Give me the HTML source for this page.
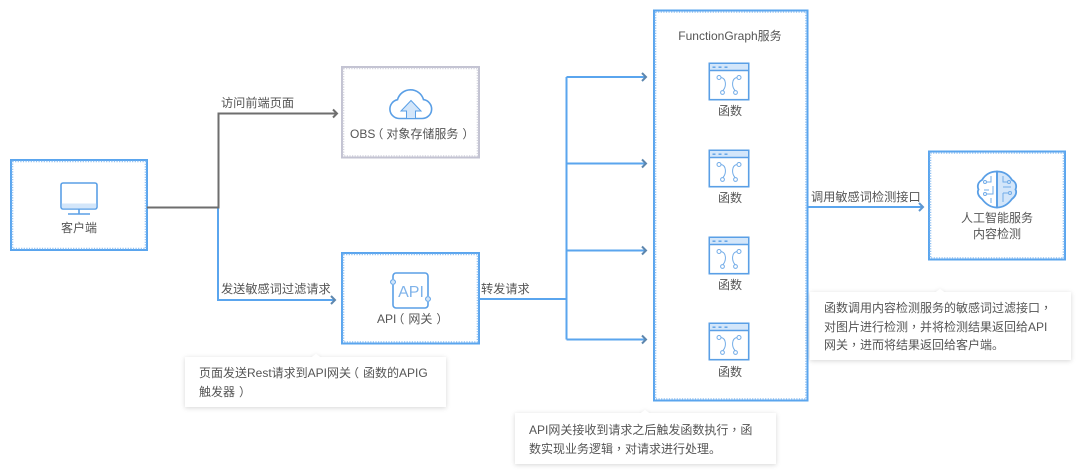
<!DOCTYPE html>
<html><head><meta charset="utf-8">
<style>
html,body{margin:0;padding:0;background:#fff}
svg{display:block;filter:blur(.3px)}
text{font-family:"Liberation Sans","Noto Sans CJK SC",sans-serif;font-size:12px;fill:#555}
.m{text-anchor:middle}
.lb{font-size:12.2px}
.tc{font-family:"Liberation Sans","Noto Sans CJK TC",sans-serif}
.ln{fill:none;stroke-width:2}
.ic{fill:none;stroke:#5a9fe6;stroke-width:1.6}
.th{fill:none;stroke:#72ace8;stroke-width:1}
</style></head>
<body>
<svg width="1080" height="475" viewBox="0 0 1080 475" xmlns="http://www.w3.org/2000/svg">
<defs>
<filter id="sh" x="-10%" y="-20%" width="120%" height="150%"><feDropShadow dx="0" dy="1" stdDeviation="2.500" flood-color="#000" flood-opacity=".16"/></filter>
<g id="fn">
<rect x="0.800" y="0.800" width="39.400" height="36.400" fill="#fff" stroke="#5a9fe6" stroke-width="1.600"/>
<rect x="1.600" y="1.600" width="37.800" height="6.400" fill="#d3e6fa"/>
<line x1="1" y1="8" x2="40" y2="8" stroke="#5a9fe6" stroke-width="1.400"/>
<path d="M4 4.700h3M10 4.700h3M16 4.700h3" stroke="#5a9fe6" stroke-width="1.300"/>
<circle cx="10.500" cy="15" r="2" class="th"/><circle cx="30.500" cy="15" r="2" class="th"/>
<circle cx="14" cy="30" r="1.900" class="th"/><circle cx="27" cy="30" r="1.900" class="th"/>
<path d="M12.500 15C18 16 18 24 14.500 28M28.500 15C23 16 23 24 26.500 28" class="th"/>
</g>
</defs>

<!-- boxes -->
<g fill="#fff" stroke-width="2">
<rect x="11" y="160" width="136" height="90" stroke="#5aa5ee"/>
<rect x="342" y="67" width="137" height="90.500" stroke="#c3c3d2"/>
<rect x="342" y="253" width="137" height="90.500" stroke="#5aa5ee"/>
<rect x="654" y="10.500" width="153.500" height="390" stroke="#5aa5ee"/>
<rect x="929" y="151.500" width="136" height="108" stroke="#5aa5ee"/>
</g>
<g fill="none" stroke-width="1.600" stroke-dasharray="1.200 1.400">
<rect x="12.500" y="161.500" width="133" height="87" stroke="#8fc0f2"/>
<rect x="343.500" y="68.500" width="134" height="87.500" stroke="#d2d2dd"/>
<rect x="343.500" y="254.500" width="134" height="87.500" stroke="#8fc0f2"/>
<rect x="655.500" y="12" width="150.500" height="387" stroke="#8fc0f2"/>
<rect x="930.500" y="153" width="133" height="105" stroke="#8fc0f2"/>
</g>

<!-- connectors -->
<path d="M218 207V300H334" class="ln" stroke="#5aa5ee"/>
<path d="M147 207.500H218.500V113.500H336" class="ln" stroke="#6e6e6e"/>
<path d="M333 109.500L337 113.500L333 117.500" class="ln" stroke="#6e6e6e"/>
<path d="M331 296L335 300L331 304" class="ln" stroke="#5d86ad"/>
<path d="M479 299H566.500M566.500 77V339.500M566.500 77H645M566.500 163.500H645M566.500 250.500H645M566.500 339.500H645" class="ln" stroke="#5aa5ee"/>
<path d="M642 73L646 77L642 81M642 159.500L646 163.500L642 167.500M642 246.500L646 250.500L642 254.500M642 335.500L646 339.500L642 343.500" class="ln" stroke="#5d86ad"/>
<path d="M808 207H922" class="ln" stroke="#5aa5ee"/>
<path d="M919 203L923 207L919 211" class="ln" stroke="#5d96d0"/>

<!-- connector labels -->
<text x="221" y="107" class="lb">访问前端页面</text>
<text x="221" y="293" class="lb">发送敏感词过滤请求</text>
<text x="481" y="293" class="lb">转发请求</text>
<text x="811" y="201" class="lb">调用敏感词检测接口</text>

<!-- client icon -->
<rect x="61" y="183" width="36" height="26" rx="2" fill="#fff" stroke="#5a9fe6" stroke-width="1.600"/>
<path d="M61.800 203.500H96.200V207a1.500 1.500 0 0 1-1.500 1.500H63.300a1.500 1.500 0 0 1-1.500-1.500Z" fill="#d3e6fa"/>
<path d="M79 209V214M68 214H90" stroke="#5a9fe6" stroke-width="1.600" fill="none"/>
<text x="79" y="232" class="m">客户端</text>

<!-- OBS icon -->
<path d="M399 118.500H422a9.500 9.500 0 0 0 1.500-18.900A13.500 13.500 0 0 0 397.500 99.700 9.500 9.500 0 0 0 399 118.500Z" fill="#fff" stroke="#5a9fe6" stroke-width="1.600"/>
<path d="M401 111L411 100.500L421 111H415.500V118.500H406.500V111Z" fill="#d3e6fa" stroke="#5a9fe6" stroke-width="1"/>
<text x="350" y="138">OBS<tspan dx="-4">（</tspan><tspan dx="3">对象存储服务</tspan><tspan dx="4">）</tspan></text>

<!-- API icon -->
<path d="M393 279V276a3 3 0 0 1 3-3H425a3 3 0 0 1 3 3V296M393 285V305a3 3 0 0 0 3 3H425a3 3 0 0 0 3-3V302" class="ic"/>
<circle cx="393" cy="282" r="2.400" fill="#d3e6fa" stroke="#5a9fe6"/>
<circle cx="428" cy="299" r="2.400" fill="#d3e6fa" stroke="#5a9fe6"/>
<text x="411" y="297" class="m" style="font-size:16px;fill:#7fb3ea">API</text>
<text x="377" y="323">API<tspan dx="-4">（</tspan><tspan dx="4">网关</tspan><tspan dx="4">）</tspan></text>

<!-- function box -->
<text x="730" y="40" class="m">FunctionGraph服务</text>
<use href="#fn" x="708.500" y="62.500"/>
<use href="#fn" x="708.500" y="149.500"/>
<use href="#fn" x="708.500" y="236.500"/>
<use href="#fn" x="708.500" y="322.500"/>
<text x="730" y="115" class="m">函数</text>
<text x="730" y="202" class="m">函数</text>
<text x="730" y="289" class="m">函数</text>
<text x="730" y="376" class="m">函数</text>

<!-- AI icon -->
<path d="M997 171.500V207.500C990 207.500 985 203 982 199 978 196 977 192 978.500 189.500 977 186 978 182 982 180 985 175 990 171.500 997 171.500Z" fill="#fff" stroke="#5a9fe6" stroke-width="1.800"/>
<path d="M997 171.500C1004 171.500 1009 175 1012 180 1016 182 1017 186 1015.500 189.500 1017 192 1016 196 1012 199 1009 203 1004 207.500 997 207.500Z" fill="#d3e6fa" stroke="#5a9fe6" stroke-width="1.800"/>
<path d="M997 171V208" stroke="#5a9fe6" stroke-width="1.800"/>
<path d="M991 176V182H987M993 186V194H987M984 190H989M991 198V203M1003 176V182H1007M1003 187H1011M1003 193H1008M1003 193V202" class="th"/>
<circle cx="985" cy="182" r="1.500" class="th"/><circle cx="985" cy="194" r="1.500" class="th"/>
<circle cx="1009" cy="182" r="1.500" class="th"/><circle cx="1010" cy="193" r="1.500" class="th"/>
<text x="997" y="222" class="m">人工智能服务</text>
<text x="997" y="238" class="m">内容检测</text>

<!-- tooltips -->
<g fill="#fff" filter="url(#sh)">
<path d="M185 357H312L316 354L320 357H446V407H185Z"/>
<path d="M515 413H641L645 410L649 413H776V464H515Z"/>
<path d="M810 292H936L940 289L944 292H1071V360H810Z"/>
</g>
<text x="199" y="377">页面发送Rest请求到API网关<tspan dx="-4">（</tspan><tspan dx="4">函数的APIG</tspan></text>
<text x="199" y="396">触发器<tspan dx="4">）</tspan></text>
<text x="529" y="434">API网关接收到请求之后触发函数执行<tspan class="tc">，</tspan>函</text>
<text x="529" y="453">数实现业务逻辑<tspan class="tc">，</tspan>对请求进行处理。</text>
<text x="824" y="312">函数调用内容检测服务的敏感词过滤接口<tspan class="tc">，</tspan></text>
<text x="824" y="331">对图片进行检测<tspan class="tc">，</tspan>并将检测结果返回给API</text>
<text x="824" y="349">网关<tspan class="tc">，</tspan>进而将结果返回给客户端。</text>
</svg>
</body></html>
